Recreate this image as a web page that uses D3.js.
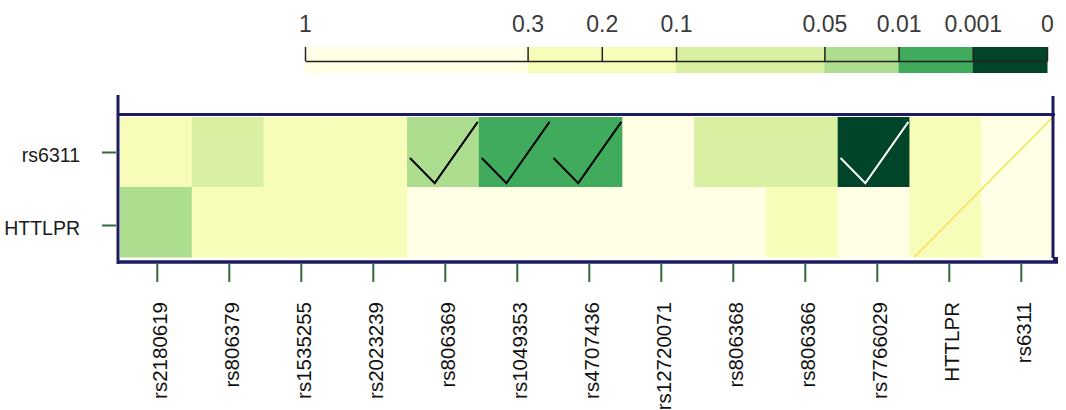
<!DOCTYPE html>
<html>
<head>
<meta charset="utf-8">
<script src="https://cdn.jsdelivr.net/npm/d3@7/dist/d3.min.js"></script>
<style>
  html, body { margin: 0; padding: 0; background: #ffffff; }
  svg { display: block; font-family: "Liberation Sans", Arial, sans-serif; }
</style>
</head>
<body>
<svg id="chart" width="1066" height="410"></svg>
<script>
// ---- data ----
const columns = ["rs2180619","rs806379","rs1535255","rs2023239","rs806369","rs1049353",
                 "rs4707436","rs12720071","rs806368","rs806366","rs7766029","HTTLPR","rs6311"];
const rows = ["rs6311","HTTLPR"];
// estimated p-values per cell (read from colour bands)
const pRs6311 = [0.2, 0.07, 0.25, 0.15, 0.03, 0.004, 0.006, 0.6, 0.08, 0.06, 0.0005, 0.2, 1];
const pHTTLPR = [0.03, 0.18, 0.22, 0.12, 0.5, 0.7, 0.4, 0.8, 0.35, 0.2, 0.9, 0.25, 1];
const checkRs6311 = [0,0,0,0,1,1,1,0,0,0,1,0,0];
const checkHTTLPR = [0,0,0,0,0,0,0,0,0,0,0,0,0];
const legendBreaks = [1, 0.3, 0.2, 0.1, 0.05, 0.01, 0.001, 0];
const legendTickLabels = ["1","0.3","0.2","0.1","0.05","0.01","0.001","0"];
const legendUnits = [0, 3, 4, 5, 7, 8, 9, 10];
const colorThresholds = [0.001, 0.01, 0.05, 0.1, 0.3];
const colorRange = ["#004529","#41ab5d","#addd8e","#d9f0a3","#f7fcb9","#ffffe5"];

const svg = d3.select("#chart");
const frameColor = "#1b1b5e";
const tickGreen = "#2f6b3a";

const color = d3.scaleThreshold().domain(colorThresholds).range(colorRange);

// ---- scales ----
const xCell = d3.scaleBand().domain(columns).range([120, 1053]);
const xTick = d3.scaleBand().domain(columns).range([121.3, 1057.3]);
const yCell = d3.scaleBand().domain(rows).range([117, 257]);
const yTick = d3.scaleBand().domain(rows).range([116, 262]);

// ---- cells ----
const cells = [];
rows.forEach((r, ri) => {
  const vals = ri === 0 ? pRs6311 : pHTTLPR;
  const chk = ri === 0 ? checkRs6311 : checkHTTLPR;
  columns.forEach((c, ci) => cells.push({row: r, col: c, p: vals[ci], check: chk[ci]}));
});

svg.append("g").selectAll("rect").data(cells).join("rect")
  .attr("x", d => xCell(d.col))
  .attr("y", d => yCell(d.row))
  .attr("width", xCell.bandwidth() + 0.5)
  .attr("height", yCell.bandwidth() + 0.5)
  .attr("fill", d => color(d.p));

// check marks
const bw = xCell.bandwidth(), bh = yCell.bandwidth();
svg.append("g").selectAll("polyline").data(cells.filter(d => d.check)).join("polyline")
  .attr("points", d => {
    const x0 = xCell(d.col), y0 = yCell(d.row);
    return [[x0 + 0.04*bw, y0 + 0.585*bh],[x0 + 0.385*bw, y0 + 0.945*bh],[x0 + 0.985*bw, y0 + 0.07*bh]]
      .map(p => p.join(",")).join(" ");
  })
  .attr("fill", "none")
  .attr("stroke", d => d.p < 0.001 ? "#ffffff" : "#000000")
  .attr("stroke-width", 2);

// diagonal
svg.append("line")
  .attr("x1", xCell("HTTLPR") + 5).attr("y1", yCell.range()[1])
  .attr("x2", xCell.range()[1]).attr("y2", yCell.range()[0])
  .attr("stroke", "#f2e45a").attr("stroke-width", 1.6);

// ---- frame ----
const fx0 = 118, fx1 = 1053;
svg.append("line").attr("x1", fx0).attr("x2", 1055).attr("y1", 114.5).attr("y2", 114.5)
  .attr("stroke", frameColor).attr("stroke-width", 3);
svg.append("line").attr("x1", fx0).attr("x2", 1058).attr("y1", 262).attr("y2", 262)
  .attr("stroke", frameColor).attr("stroke-width", 3.5);
svg.append("line").attr("x1", fx0).attr("x2", fx0).attr("y1", 95).attr("y2", 264)
  .attr("stroke", frameColor).attr("stroke-width", 3);
svg.append("line").attr("x1", fx1).attr("x2", fx1).attr("y1", 96).attr("y2", 258)
  .attr("stroke", frameColor).attr("stroke-width", 3);
svg.append("rect").attr("x", 1053).attr("y", 257).attr("width", 5).attr("height", 5)
  .attr("fill", frameColor);

// ---- x axis ----
const xAxis = svg.append("g").attr("transform", "translate(0,264)")
  .call(d3.axisBottom(xTick).tickSize(18).tickSizeOuter(0));
xAxis.select(".domain").remove();
xAxis.selectAll(".tick line").attr("stroke", tickGreen).attr("stroke-width", 2);
xAxis.selectAll(".tick text")
  .attr("transform", "rotate(-90)")
  .attr("text-anchor", "end")
  .attr("x", -38).attr("y", 9.5).attr("dy", 0)
  .attr("font-size", 20.5)
  .attr("font-family", "Liberation Sans, Arial, sans-serif")
  .attr("fill", "#111");

// ---- y axis ----
const yAxis = svg.append("g").attr("transform", "translate(116,0)")
  .call(d3.axisLeft(yTick).tickSize(14).tickPadding(22).tickSizeOuter(0));
yAxis.select(".domain").remove();
yAxis.selectAll(".tick line").attr("stroke", tickGreen).attr("stroke-width", 2);
yAxis.selectAll(".tick text")
  .attr("dy", "0.48em")
  .attr("font-size", 19.5)
  .attr("font-family", "Liberation Sans, Arial, sans-serif")
  .attr("fill", "#1a1a1a");

// ---- legend ----
const legendX = d3.scaleLinear()
  .domain(legendBreaks)
  .range(legendUnits.map(u => 305 + u * 74.2));
const segs = d3.pairs(legendBreaks);
svg.append("g").selectAll("rect").data(segs).join("rect")
  .attr("x", d => legendX(d[0]))
  .attr("y", 47)
  .attr("width", d => legendX(d[1]) - legendX(d[0]) + 0.5)
  .attr("height", 26)
  .attr("fill", d => color((d[0] + d[1]) / 2));

const lAxis = svg.append("g").attr("transform", "translate(0,61)")
  .call(d3.axisTop(legendX).tickValues(legendBreaks)
    .tickFormat((d, i) => legendTickLabels[i])
    .tickSize(14).tickPadding(15).tickSizeOuter(0));
lAxis.select(".domain").attr("stroke", "#222").attr("stroke-width", 1.5);
lAxis.selectAll(".tick line").attr("stroke", "#222").attr("stroke-width", 1.5);
lAxis.selectAll(".tick text")
  .attr("font-size", 23)
  .attr("font-family", "Liberation Sans, Arial, sans-serif")
  .attr("fill", "#3a3a3a");
</script>
</body>
</html>
